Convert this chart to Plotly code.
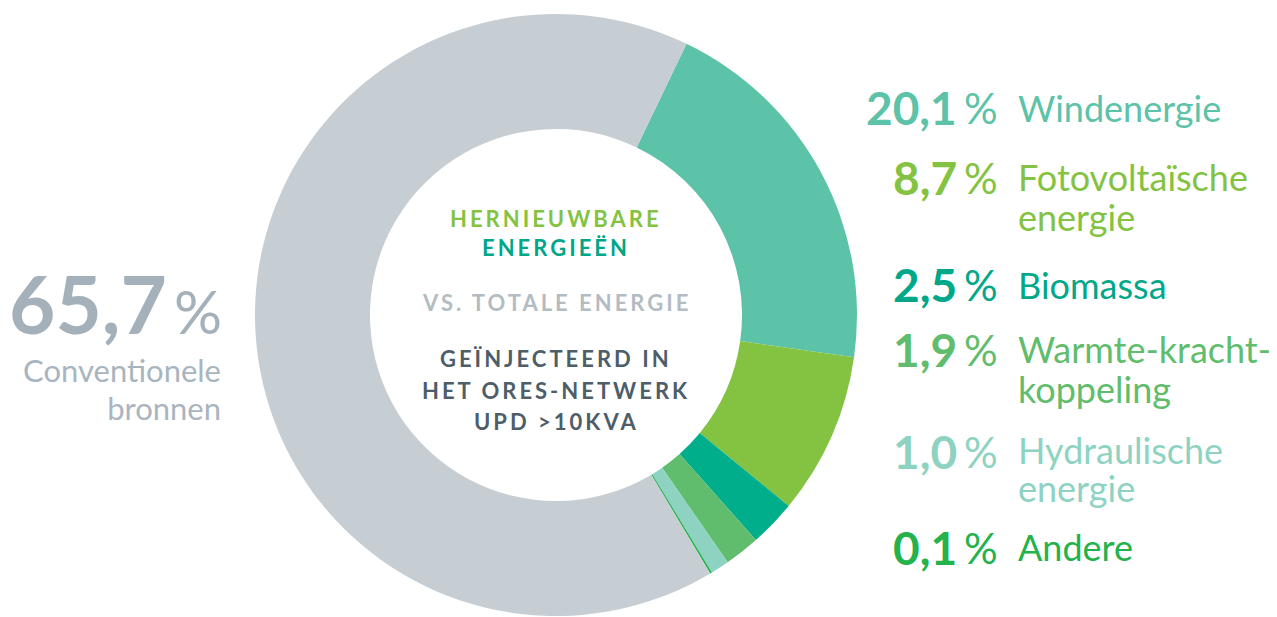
import plotly.graph_objects as go

# ---- data ----
categories = ["Windenergie", "Fotovoltaïsche energie", "Biomassa",
              "Warmte-krachtkoppeling", "Hydraulische energie", "Andere",
              "Conventionele bronnen"]
values = [20.1, 8.7, 2.5, 1.9, 1.0, 0.1, 65.7]
label_lines = [["Windenergie"], ["Fotovoltaïsche", "energie"], ["Biomassa"],
               ["Warmte-kracht-", "koppeling"], ["Hydraulische", "energie"], ["Andere"]]
conv_lines = ["Conventionele", "bronnen"]
center_lines = ["HERNIEUWBARE", "ENERGIEËN", "VS. TOTALE ENERGIE",
                "GEÏNJECTEERD IN", "HET ORES-NETWERK", "UPD >10KVA"]

# ---- styles ----
colors = ["#5CC3A8", "#84C341", "#00AE8B", "#5FBD6D", "#8ED3C1", "#23B24B", "#C6CED4"]
text_colors = ["#5CC3A8", "#84C341", "#00A889", "#5FBD6D", "#8ED3C1", "#23B24B"]
gray_num = "#A5B1BA"
gray_txt = "#A9B5BE"
center_colors = ["#84C341", "#00A688", "#B3BCC3", "#4E5E69", "#4E5E69", "#4E5E69"]

# page body has an 8px margin: compensate so picture coordinates match
OFF = 8
W, H = 1277 - OFF, 617 - OFF
def px(x): return (x - OFF) / W
def py(y): return 1 - (y - OFF) / H

FONT = "Lato"

def lines_html(lines, size):
    return "<br>".join(f"<span style='font-size:{size}px'>{t}</span>" for t in lines)

fig = go.Figure()
fig.add_trace(go.Pie(
    labels=categories, values=values, sort=False, direction="clockwise",
    rotation=25.7, hole=0.618, textinfo="none", hoverinfo="label+value",
    marker=dict(colors=colors, line=dict(width=0)),
    domain=dict(x=[px(255), px(857)], y=[max(0, py(616)), py(14)]),
    showlegend=False,
))

ann = []
# right side labels
num_y = [107, 177, 284, 349, 451, 547]
first_y = [108, 177, 285, 349, 450, 547]
spacing = [40, 40, 40, 40, 38, 40]
LBL = 36
for i in range(6):
    s = f"{values[i]:.1f}".replace(".", ",")
    c = text_colors[i]
    ann.append(dict(x=px(959), y=py(num_y[i]), xref="paper", yref="paper",
                    text=f"<b>{s}</b>", showarrow=False, xanchor="right", yanchor="middle",
                    font=dict(family=FONT, size=46, color=c, weight=900)))
    ann.append(dict(x=px(962), y=py(num_y[i] + 1), xref="paper", yref="paper",
                    text="%", showarrow=False, xanchor="left", yanchor="middle",
                    font=dict(family=FONT, size=42, color=c)))
    n = len(label_lines[i])
    yc = first_y[i] + spacing[i] * (n - 1) / 2
    ann.append(dict(x=px(1016), y=py(yc), xref="paper", yref="paper",
                    text=lines_html(label_lines[i], LBL), showarrow=False,
                    xanchor="left", yanchor="middle", align="left",
                    font=dict(family=FONT, size=spacing[i] / 1.3, color=c)))

# left big number
s = f"{values[6]:.1f}".replace(".", ",")
ann.append(dict(x=px(169), y=py(303), xref="paper", yref="paper",
                text=f"<b>{s}</b>", showarrow=False, xanchor="right", yanchor="middle",
                font=dict(family=FONT, size=80, color=gray_num, weight=900)))
ann.append(dict(x=px(172), y=py(311), xref="paper", yref="paper",
                text="%", showarrow=False, xanchor="left", yanchor="middle",
                font=dict(family=FONT, size=60, color=gray_num)))
ann.append(dict(x=px(223), y=py(389), xref="paper", yref="paper",
                text=lines_html(conv_lines, 31), showarrow=False,
                xanchor="right", yanchor="middle", align="right",
                font=dict(family=FONT, size=38 / 1.3, color=gray_txt)))

# center text
cy = [218, 248, 302, 358, 390, 422]
for t, yy, c in zip(center_lines, cy, center_colors):
    ann.append(dict(x=px(556), y=py(yy), xref="paper", yref="paper",
                    text=f"<span style='letter-spacing:3px'><b>{t}</b></span>",
                    showarrow=False, xanchor="center", yanchor="middle",
                    font=dict(family=FONT, size=22, color=c)))

fig.update_layout(
    width=W, height=H, margin=dict(l=0, r=0, t=0, b=0),
    paper_bgcolor="white", plot_bgcolor="white",
    annotations=ann,
)
fig.write_html("out.html")
